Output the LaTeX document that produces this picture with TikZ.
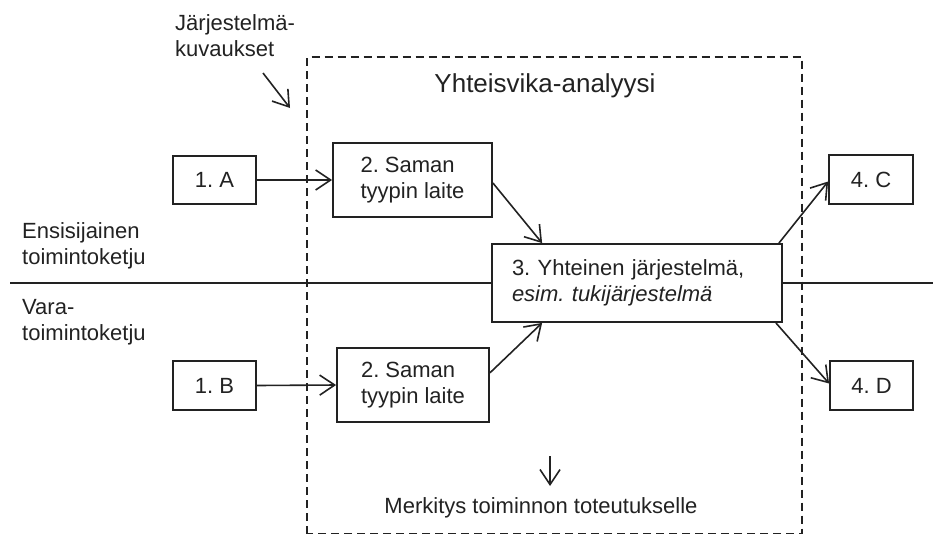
\documentclass[tikz,border=0pt]{standalone}
\usepackage{fontspec}
\setmainfont{Liberation Sans}
\usetikzlibrary{arrows.meta,calc}
\definecolor{ink}{HTML}{222222}
\frenchspacing
\begin{document}
\begin{tikzpicture}[x=1pt,y=-1pt,
  every node/.style={text=ink, font=\fontsize{22}{26}\selectfont},
  box/.style={draw=ink, line width=1.8pt, fill=white, align=left, inner sep=0pt},
  conn/.style={draw=ink, line width=1.6pt,
    -{Straight Barb[length=15pt,width=20pt,line width=1.6pt]}},
  lbl/.style={align=left, inner sep=0pt, anchor=north west},
  frame/.style={draw=ink, line width=1.6pt, dash pattern=on 8pt off 5pt},
  sep/.style={draw=ink, line width=1.6pt}]
\useasboundingbox (0,0) rectangle (933,533);

% analysis frame (its lower edge sits on the border) and its title
\draw[frame] (307,533.5) -- (307,57) -- (802,57) -- (802,533.5) -- cycle;
\node[inner sep=0pt, anchor=base, font=\fontsize{26}{30}\selectfont] (title) at (545,92) {Yhteisvika-analyysi};

% line between the primary and the backup chain
\draw[sep] (10,283) -- (933,283);

% side labels
\node[lbl] (desc) at (175,14) {Järjestelmä-\\kuvaukset};
\node[lbl] (chain1) at (22,222) {Ensisijainen\\toimintoketju};
\node[lbl] (chain2) at (22,299) {Vara-\\toimintoketju};
\node[inner sep=0pt, anchor=north] (effect) at (541,497) {Merkitys toiminnon toteutukselle};

% boxes
\node[box, minimum width=83pt, minimum height=48pt] (a1) at (214.5,180) {1. A};
\node[box, minimum width=83pt, minimum height=49pt] (a2) at (214.5,385.5) {1. B};
\node[box, minimum width=159pt, minimum height=74pt] (b1) at (412.5,180) {2. Saman\\tyypin laite};
\node[box, minimum width=152pt, minimum height=74pt] (b2) at (413,385) {2. Saman\\tyypin laite};
\node[box, minimum width=290pt, minimum height=78pt, text width=250pt] (c) at (637,283) {3. Yhteinen järjestelmä,\\\textit{esim. tukijärjestelmä}};
\node[box, minimum width=84pt, minimum height=49pt] (d1) at (871,179.5) {4. C};
\node[box, minimum width=83pt, minimum height=49pt] (d2) at (871.5,385.5) {4. D};

% connectors
\draw[conn] (a1.east) -- (b1.west);
\draw[conn] (a2.east) -- (b2.west);
\draw[conn] ($(b1.east)+(0,3)$) -- ($(c.north west)+(51,0)$);
\draw[conn] ($(b2.north east)!0.34!(b2.south east)$) -- ($(c.south west)+(51,0)$);
\draw[conn] ($(c.north east)+(-4,0)$) -- ($(d1.west)+(0,2)$);
\draw[conn] ($(c.south east)+(-7,0)$) -- ($(d2.west)+(0,-2)$);

% pointer arrows
\coordinate (desc0) at (263,73);
\coordinate (desc1) at (290,108);
\draw[conn] (desc0) -- (desc1);
\coordinate (eff0) at (550,456);
\coordinate (eff1) at (550,486);
\draw[conn] (eff0) -- (eff1);
\end{tikzpicture}
\end{document}
